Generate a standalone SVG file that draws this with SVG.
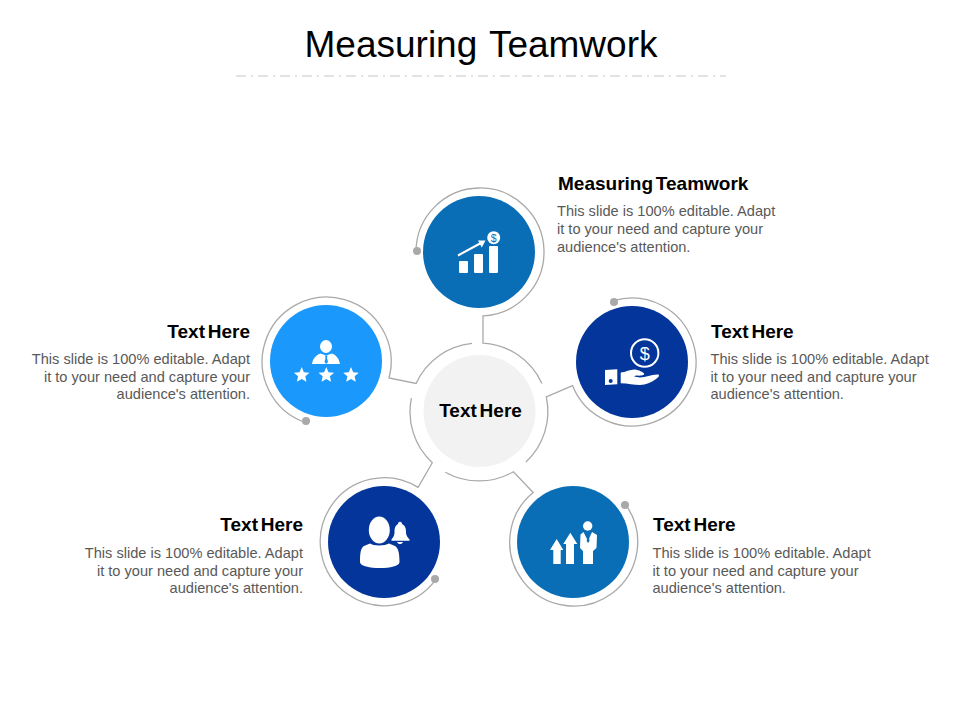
<svg xmlns="http://www.w3.org/2000/svg" width="960" height="720" viewBox="0 0 960 720">
<style>
text{font-family:"Liberation Sans",Arial,sans-serif}
.title{font-size:37px;fill:#000;word-spacing:2px}
.h{font-size:19px;font-weight:bold;fill:#000;word-spacing:-2.500px}
.b{font-size:14.600px;fill:#595959}
.e{text-anchor:end}
.ln{fill:none;stroke:#a9a9a9;stroke-width:1.300}
.dot{fill:#a9a9a9}
.w{fill:#fff}
.sw{fill:none;stroke:#fff}
</style>
<rect width="960" height="720" fill="#fff"/>
<text class="title" x="481" y="57" text-anchor="middle">Measuring Teamwork</text>
<line x1="236" y1="76" x2="726" y2="76" stroke="#d9d9d9" stroke-width="1.500" stroke-dasharray="10 5 2 5"/>
<g id="connectors" class="ln">
<path d="M416 252A64 64 0 1 1 483 315.900V343.100A69 69 0 0 1 541.900 383.500"/>
<path d="M613.600 300.700A64 64 0 1 1 572.500 385.600L546.300 397A69 69 0 0 1 526 462"/>
<path d="M625.600 504.600A64 64 0 1 1 533.200 492.500L513.400 471.800A69 69 0 0 1 445.400 472.200"/>
<path d="M435.600 579.900A64 64 0 1 1 418.100 487.400L432.300 462.700A69 69 0 0 1 411.400 398.100"/>
<path d="M305.500 422.500A64.500 64.500 0 1 1 389 378L416.100 383.400A69 69 0 0 1 472 343.400"/>
</g>
<g id="center">
<circle cx="479.500" cy="411" r="56" fill="#f2f2f2"/>
<text class="h" x="480.500" y="416.500" text-anchor="middle">Text Here</text>
</g>
<g id="node-top">
<circle class="dot" cx="417" cy="251" r="4"/>
<circle cx="479" cy="252" r="56" fill="#0a6eb7"/>
<rect class="w" x="459" y="261" width="9" height="12" rx="1"/>
<rect class="w" x="474" y="254" width="9" height="19" rx="1"/>
<rect class="w" x="489" y="246" width="9" height="27" rx="1"/>
<path class="sw" stroke-width="2" d="M458 255.500L481 243"/>
<path class="w" d="M485.500 240.500L478 240.500L481.800 247.500Z"/>
<circle class="w" cx="493.700" cy="237.700" r="6.500"/>
<text x="493.700" y="241.500" text-anchor="middle" font-size="10.500" fill="#0a6eb7">$</text>
<text class="h" x="558" y="190">Measuring Teamwork</text>
<text class="b" x="557" y="216">This slide is 100% editable. Adapt</text>
<text class="b" x="557" y="234">it to your need and capture your</text>
<text class="b" x="557" y="252">audience's attention.</text>
</g>
<g id="node-right">
<circle class="dot" cx="614" cy="302" r="4"/>
<circle cx="632" cy="362" r="56" fill="#03359a"/>
<circle class="sw" cx="644.700" cy="353" r="13.700" stroke-width="2"/>
<text x="644.700" y="359.500" text-anchor="middle" font-size="18" fill="#fff">$</text>
<path class="w" d="M605 370L617.300 369.300V384.300L605 385Z"/>
<circle cx="610.700" cy="381" r="2" fill="#03359a"/>
<path class="w" d="M620.700 372.500C626 372 631 369 635 369.500C639 370 643 372 644 373.500C645 375 642 376 636 375.500L634 376.500L640 377.500C646 377.500 652 374 658.500 374.500C659.500 375.500 659 377 656 379C651 382.500 646 385 640 385C634 385 628 383.500 620.700 383.300Z"/>
<text class="h" x="711" y="338">Text Here</text>
<text class="b" x="710.500" y="364">This slide is 100% editable. Adapt</text>
<text class="b" x="710.500" y="382">it to your need and capture your</text>
<text class="b" x="710.500" y="399">audience's attention.</text>
</g>
<g id="node-bottom-right">
<circle class="dot" cx="625" cy="505" r="4"/>
<circle cx="573" cy="542" r="56" fill="#0a6eb7"/>
<path class="w" d="M556.700 539L563.300 550H560.700V564H553.300V550H550Z"/>
<path class="w" d="M570.300 532.700L577.300 544H574V564H566V544H563.300Z"/>
<circle class="w" cx="587.700" cy="526" r="4.700"/>
<path class="w" d="M583.500 532L580.500 534.500L580 548L583 551V564H593V551L596.500 548L597 535L592 532L588 541Z"/>
<path d="M587 533.500H589L588.800 536L589.500 541L588 543L586.700 541L587.500 536Z" fill="#0a6eb7"/>
<text class="h" x="653" y="531">Text Here</text>
<text class="b" x="652.500" y="558">This slide is 100% editable. Adapt</text>
<text class="b" x="652.500" y="576">it to your need and capture your</text>
<text class="b" x="652.500" y="593">audience's attention.</text>
</g>
<g id="node-bottom-left">
<circle class="dot" cx="435" cy="579" r="4"/>
<circle cx="384" cy="542" r="56" fill="#03359a"/>
<ellipse class="w" cx="379.300" cy="530" rx="10.500" ry="13.500"/>
<path class="w" d="M370 543.500C373 546 385 546 389 543.500L395 546C398 548 399.500 552 399.500 562C399.500 566 390 568 380 568C370 568 360 566 360 562C360 552 361 548 364 546Z"/>
<path class="w" d="M400 521.700C401.500 521.700 402 523 402 524C405.500 525.500 406 529 406 532C406 536 408 537.500 409.500 539.500V540.800H391.500V539.500C393 537.500 394.500 536 394.500 532C394.500 529 395 525.500 398 524C398 523 398.500 521.700 400 521.700Z"/>
<path class="w" d="M397 542H403C402.500 543.500 401 544 400 544C399 544 397.500 543.500 397 542Z"/>
<text class="h e" x="303" y="531">Text Here</text>
<text class="b e" x="303" y="558">This slide is 100% editable. Adapt</text>
<text class="b e" x="303" y="576">it to your need and capture your</text>
<text class="b e" x="303" y="593">audience's attention.</text>
</g>
<g id="node-left">
<circle class="dot" cx="306" cy="421" r="4"/>
<circle cx="326" cy="361" r="56" fill="#1a98fc"/>
<ellipse class="w" cx="326" cy="346.500" rx="6" ry="6.500"/>
<path class="w" d="M320.500 353.500L326 355.500L332 353.500C337 355.500 339 359 340 364H312C313 359 315 355.500 320.500 353.500Z"/>
<path d="M325 355.500H327.500L327 358L328 362L326.200 364L324.500 362L325.500 358Z" fill="#1a98fc"/>
<path class="w" d="M301.700 367L303.900 372.200L309.500 372.700L305.300 376.300L306.500 381.800L301.700 378.900L296.900 381.800L298.100 376.300L293.900 372.700L299.500 372.200Z"/>
<path class="w" d="M326.300 367L328.500 372.200L334.100 372.700L329.900 376.300L331.100 381.800L326.300 378.900L321.500 381.800L322.700 376.300L318.500 372.700L324.100 372.200Z"/>
<path class="w" d="M351 367L353.200 372.200L358.800 372.700L354.600 376.300L355.800 381.800L351 378.900L346.200 381.800L347.400 376.300L343.200 372.700L348.800 372.200Z"/>
<text class="h e" x="250" y="338">Text Here</text>
<text class="b e" x="250" y="364">This slide is 100% editable. Adapt</text>
<text class="b e" x="250" y="382">it to your need and capture your</text>
<text class="b e" x="250" y="399">audience's attention.</text>
</g>
</svg>
